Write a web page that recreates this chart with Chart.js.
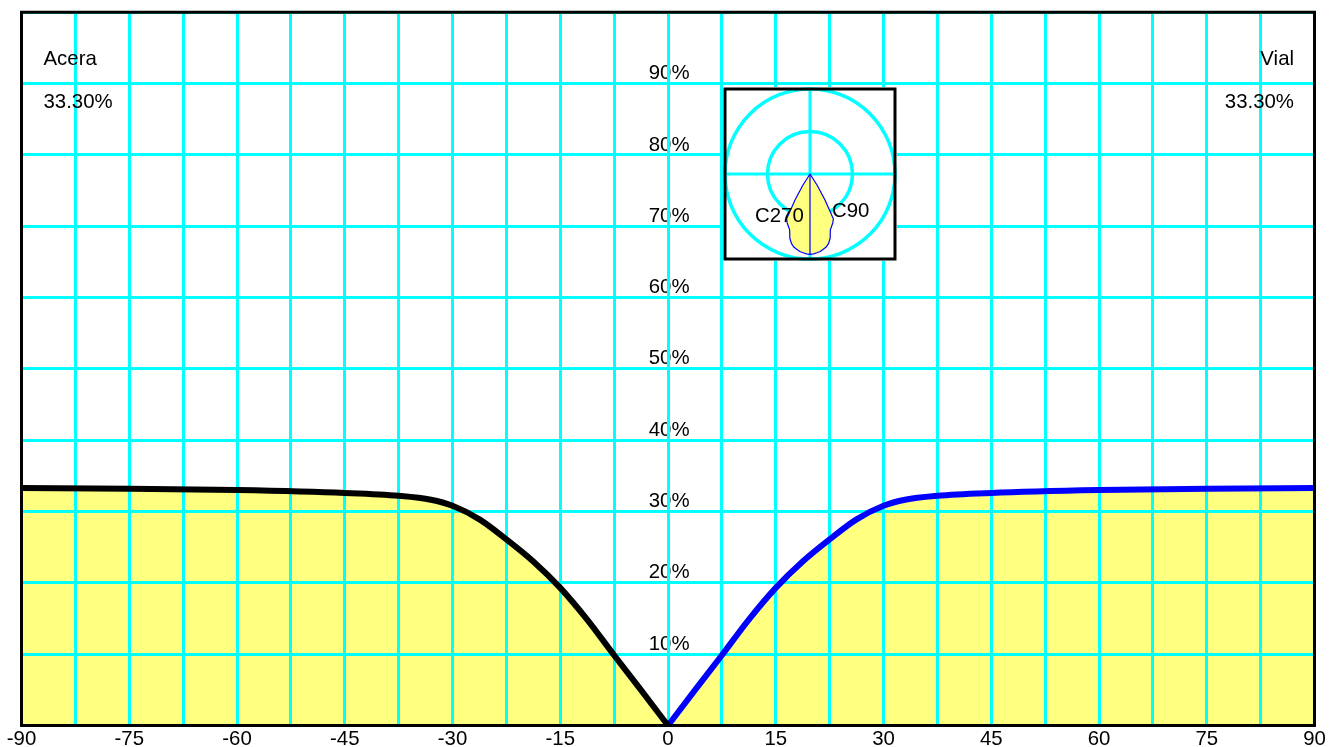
<!DOCTYPE html>
<html>
<head>
<meta charset="utf-8">
<style>
  html, body { margin: 0; padding: 0; background: #fff; overflow: hidden; }
  #wrap { position: relative; width: 1339px; height: 747px; }
  #mainChart { position: absolute; left: 0; top: 0; }
  #polarChart { position: absolute; left: 723px; top: 87px; background: #fff; }
</style>
<script src="https://cdn.jsdelivr.net/npm/chart.js@4"></script>
</head>
<body>
<div id="wrap">
  <canvas id="mainChart" width="1339" height="747"></canvas>
  <canvas id="polarChart" width="174" height="174"></canvas>
</div>
<script>
const leftAngles = [-90, -75, -60, -45, -37.5, -33, -30, -26.25, -22.5, -18.75, -15, -11.25, -7.5, -3.75, 0];
const leftValues = [33.3, 33.2, 33.0, 32.6, 32.2, 31.65, 30.8, 28.9, 26.1, 23.0, 19.3, 14.85, 9.85, 4.95, 0];
const rightAngles = [0, 3.75, 7.5, 11.25, 15, 18.75, 22.5, 26.25, 30, 33, 37.5, 45, 60, 75, 90];
const rightValues = [0, 4.95, 9.85, 14.85, 19.3, 23.0, 26.1, 28.9, 30.8, 31.65, 32.2, 32.6, 33.0, 33.2, 33.3];
const percentTicks = ['10%', '20%', '30%', '40%', '50%', '60%', '70%', '80%', '90%'];
const angleTicks = [-90, -75, -60, -45, -30, -15, 0, 15, 30, 45, 60, 75, 90];

// polar curve, 2.5 degree steps from straight down, zero outside of it
const polarC90 = [0.945, 0.94, 0.93, 0.92, 0.90, 0.88, 0.845, 0.79, 0.70, 0.665, 0.635, 0.595, 0.35, 0.16, 0];
const polarC270 = [0.945, 0.94, 0.93, 0.92, 0.90, 0.88, 0.845, 0.79, 0.70, 0.665, 0.635, 0.595, 0.35, 0.16, 0];

const CYAN = '#00ffff';
const YELLOW = '#ffff80';
const FONT = { family: '"Liberation Sans", Arial, sans-serif', size: 20.4 };
const FONT_CSS = '20.4px "Liberation Sans", Arial, sans-serif';

function toPoints(xs, ys) {
  return xs.map((x, i) => ({ x: x, y: ys[i] }));
}

const labelsPlugin = {
  id: 'labels',
  // grid goes back on top of the yellow area, under the curves
  afterDatasetDraw(chart, args) {
    if (args.index === 2) {
      chart.scales.x.drawGrid(chart.chartArea);
      chart.scales.y.drawGrid(chart.chartArea);
    }
  },
  afterDraw(chart) {
    const ctx = chart.ctx;
    const a = chart.chartArea;
    ctx.save();
    ctx.strokeStyle = '#000';
    ctx.lineWidth = 3;
    ctx.strokeRect(a.left, a.top, a.right - a.left, a.bottom - a.top);
    ctx.fillStyle = '#000';
    ctx.font = FONT_CSS;
    ctx.textBaseline = 'alphabetic';
    ctx.textAlign = 'left';
    ctx.fillText('Acera', 43.5, 65);
    ctx.fillText('33.30%', 43.5, 108);
    ctx.textAlign = 'right';
    ctx.fillText('Vial', 1294, 65);
    ctx.fillText('33.30%', 1294, 108);
    ctx.restore();
  }
};

new Chart(document.getElementById('mainChart'), {
  type: 'scatter',
  data: {
    datasets: [
      {
        data: toPoints(leftAngles, leftValues),
        showLine: true, borderColor: '#000', borderWidth: 6,
        cubicInterpolationMode: 'monotone', pointRadius: 0, clip: false
      },
      {
        data: toPoints(rightAngles, rightValues),
        showLine: true, borderColor: '#0000ff', borderWidth: 6,
        cubicInterpolationMode: 'monotone', pointRadius: 0, clip: false
      },
      {
        data: toPoints(leftAngles.concat(rightAngles), leftValues.concat(rightValues)),
        showLine: true, borderWidth: 0, borderColor: YELLOW, backgroundColor: YELLOW,
        fill: 'origin', cubicInterpolationMode: 'monotone', pointRadius: 0
      }
    ]
  },
  options: {
    responsive: false,
    animation: false,
    events: [],
    layout: { padding: { left: 21.5, top: 11, right: 24.5, bottom: 0 } },
    plugins: { legend: { display: false }, tooltip: { enabled: false }, filler: { propagate: false } },
    scales: {
      x: {
        type: 'linear', min: -90, max: 90,
        afterFit(scale) { scale.height = 21.5; },
        afterBuildTicks(scale) {
          const t = [];
          for (let v = -90; v <= 90; v += 7.5) t.push({ value: v });
          scale.ticks = t;
        },
        grid: { color: CYAN, lineWidth: 3, drawTicks: false },
        border: { display: false },
        ticks: {
          color: '#000', font: FONT, padding: 2, autoSkip: false, maxRotation: 0,
          callback: (v) => (angleTicks.includes(v) ? String(v) : '')
        }
      },
      y: {
        type: 'linear', min: 0, max: 100,
        position: { x: 3 },
        grid: { color: CYAN, lineWidth: 3, drawTicks: false },
        border: { display: false },
        ticks: {
          color: '#000', font: FONT, stepSize: 10, padding: 0, labelOffset: -10,
          callback: (v) => (percentTicks.includes(v + '%') ? v + '%' : '')
        }
      }
    }
  },
  plugins: [labelsPlugin]
});

// inset: radar chart on 144 spokes, index 72 points straight down
const spokes = [];
const polarValues = [];
const polarAxis = [];
for (let i = 0; i < 144; i++) {
  spokes.push(String(i * 2.5));
  const side = i < 72 ? polarC270 : polarC90;
  const v = side[Math.abs(i - 72)];
  polarValues.push(v === undefined ? 0 : v);
  polarAxis.push(i === 72 ? polarC90[0] : 0);
}

const polarLabels = {
  id: 'polarLabels',
  afterDraw(chart) {
    const ctx = chart.ctx;
    const a = chart.chartArea;
    ctx.save();
    ctx.strokeStyle = '#000';
    ctx.lineWidth = 3;
    ctx.strokeRect(a.left, a.top, a.right - a.left, a.bottom - a.top);
    ctx.fillStyle = '#000';
    ctx.font = FONT_CSS;
    ctx.textAlign = 'left';
    ctx.fillText('C270', 32, 135);
    ctx.fillText('C90', 109, 130);
    ctx.restore();
  }
};

new Chart(document.getElementById('polarChart'), {
  type: 'radar',
  data: {
    labels: spokes,
    datasets: [
      { data: polarAxis, borderColor: '#0000ff', borderWidth: 1.2, pointRadius: 0, fill: false },
      { data: polarValues, borderColor: '#0000ff', borderWidth: 1.2, backgroundColor: YELLOW, pointRadius: 0, fill: true }
    ]
  },
  options: {
    responsive: false,
    animation: false,
    events: [],
    layout: { padding: 2 },
    plugins: { legend: { display: false }, tooltip: { enabled: false } },
    scales: {
      r: {
        min: 0, max: 1,
        grid: { circular: true, color: CYAN, lineWidth: 3.5 },
        angleLines: {
          color: CYAN,
          lineWidth: (ctx) => (ctx.index % 36 === 0 ? 3 : 0)
        },
        pointLabels: { display: false },
        ticks: { display: false, stepSize: 0.5 }
      }
    }
  },
  plugins: [polarLabels]
});
</script>
</body>
</html>
